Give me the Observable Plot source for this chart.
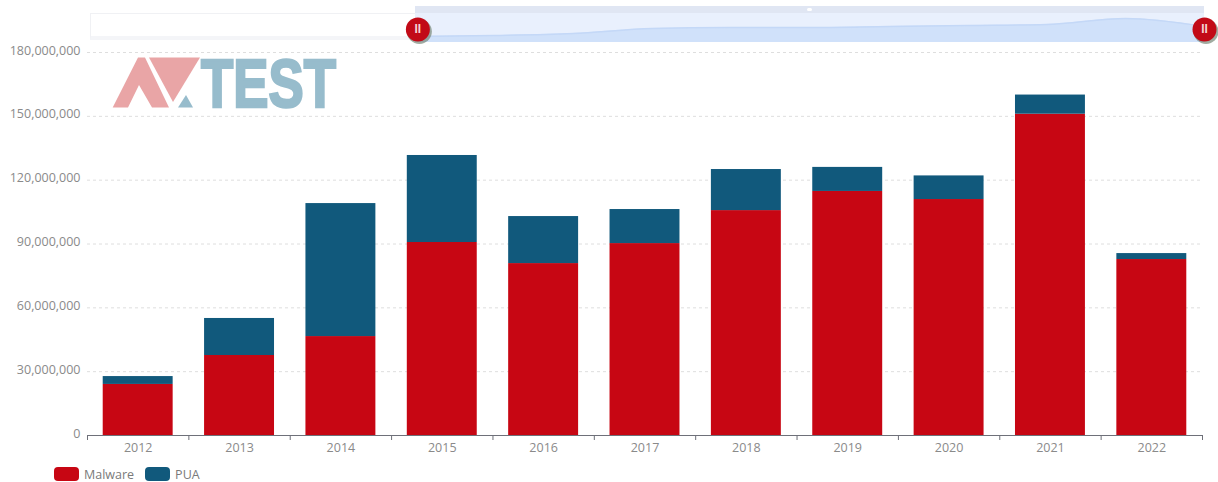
<!DOCTYPE html>
<html>
<head>
<meta charset="utf-8">
<script src="https://cdn.jsdelivr.net/npm/d3@7"></script>
<script src="https://cdn.jsdelivr.net/npm/@observablehq/plot@0.6"></script>
<style>
  html, body { margin: 0; padding: 0; background: #fff; overflow: hidden; }
  #page { position: relative; width: 1218px; height: 482px; font-family: "Open Sans", sans-serif; }
  .slider-idle { position: absolute; left: 90px; top: 13px; width: 328px; height: 27px; background: #fff;
    border: 1px solid #f0f1f4; box-sizing: border-box; border-bottom: 4px solid #f4f5f8; }
  .slider-window { position: absolute; left: 415px; top: 6px; width: 789px; height: 36px; background: #e9f0fd; }
  .slider-window::before { content: ""; position: absolute; left: 0; right: 0; top: 0; height: 7px; background: #e0e6f3; }
  .slider-window::after { content: ""; position: absolute; left: 392px; top: 2px; width: 5px; height: 3px; background: #fff; border-radius: 2px; }
  .logo { position: absolute; left: 0; top: 0; }
  .legend { display: flex; align-items: center; height: 14px; padding: 5px 0 0 54px; font-size: 12.5px; color: #7a7a7a; }
  .legend i { display: inline-block; width: 25px; height: 14px; border-radius: 4px; margin-right: 5px; }
  .legend span { margin-right: 11px; }
  #chart svg, #preview svg { display: block; background: transparent; }
  #preview { position: absolute; left: 0; top: 0; }
</style>
</head>
<body>
<div id="page">
  <div id="chart"></div>
  <div class="slider-idle"></div>
  <div class="slider-window"></div>
  <div id="preview"></div>
  <svg class="logo" width="420" height="130" aria-label="AV-TEST">
    <polygon points="112.7,107.5 138,57.5 145,57.5 169,107.5 152,107.5 139,85 128,107.5" fill="#e9a5a6"/>
    <polygon points="149,57.5 200,57.5 173,102" fill="#e9a5a6"/>
    <polygon points="178,107.5 193,107.5 186,95" fill="#97bccc"/>
    <text x="201" y="107" font-family="Liberation Sans, sans-serif" font-weight="700" font-size="68"
      textLength="135" lengthAdjust="spacingAndGlyphs" fill="#97bccc" stroke="#97bccc" stroke-width="2.5">TEST</text>
  </svg>
  <div class="legend" id="legend"></div>
</div>
<script>
// Yearly totals of new samples, stacked by category.
const years = [2012, 2013, 2014, 2015, 2016, 2017, 2018, 2019, 2020, 2021, 2022];
const malware = [24.0e6, 37.6e6, 46.5e6, 90.7e6, 80.8e6, 90.2e6, 105.7e6, 114.7e6, 110.9e6, 151.0e6, 82.7e6];
const pua = [3.7e6, 17.4e6, 62.5e6, 40.9e6, 22.1e6, 16.0e6, 19.3e6, 11.3e6, 11.1e6, 9.0e6, 2.8e6];
const seriesNames = ["Malware", "PUA"];
const seriesColors = ["#c70613", "#11597c"];
const yTicks = [0, 30e6, 60e6, 90e6, 120e6, 150e6, 180e6];

// Outline shown inside the range slider above the chart, in millions.
const sliderTrend = [30, 35, 45, 70, 75, 75, 80, 85, 90, 120, 80];
const sliderEnds = [2012.03, 2022];
const sliderHandleLevel = 65;

const halfBar = 0.345;
const rows = years.flatMap((year, i) => [
  {year, series: seriesNames[0], y1: 0, y2: malware[i]},
  {year, series: seriesNames[1], y1: malware[i], y2: malware[i] + pua[i]}
]);
const bandEdges = [...years.map((y) => y - 0.5), years[years.length - 1] + 0.5];

const chart = Plot.plot({
  width: 1218,
  height: 462,
  marginLeft: 87,
  marginRight: 16,
  marginTop: 52,
  marginBottom: 27,
  style: {fontFamily: "'Open Sans', sans-serif", fontSize: "12.5px", color: "#858585", background: "transparent"},
  x: {domain: [2011.5, 2022.5]},
  y: {domain: [0, 180e6]},
  color: {domain: seriesNames, range: seriesColors},
  marks: [
    Plot.gridY(yTicks, {stroke: "#dedede", strokeOpacity: 1, strokeDasharray: "3,3"}),
    Plot.rectY(rows, {
      x1: (d) => d.year - halfBar,
      x2: (d) => d.year + halfBar,
      y1: "y1",
      y2: "y2",
      fill: "series"
    }),
    Plot.ruleY([0], {stroke: "#6e7079"}),
    Plot.axisY(yTicks, {tickSize: 0, tickPadding: 7, dy: -2, tickFormat: d3.format(","), label: null, fill: "#8a8a8a"}),
    Plot.axisX(bandEdges, {tickSize: 5, stroke: "#6e7079", tickFormat: () => "", label: null}),
    Plot.axisX(years, {tickSize: 0, tickPadding: 8, tickFormat: (d) => String(d), label: null, fill: "#8a8a8a"})
  ]
});
document.getElementById("chart").append(chart);

// Range slider: the outline of the yearly trend with a round pause handle at each end.
const trendRows = years.map((year, i) => ({year, v: sliderTrend[i]}));
const preview = Plot.plot({
  width: 1218,
  height: 50,
  marginLeft: 415,
  marginRight: 14,
  marginTop: 6,
  marginBottom: 8,
  axis: null,
  x: {domain: [2012, 2022]},
  y: {domain: [0, 180]},
  style: {background: "transparent", overflow: "visible"},
  marks: [
    Plot.areaY(trendRows, {x: "year", y: "v", fill: "#d0e1fa", curve: "monotone-x"}),
    Plot.lineY(trendRows, {x: "year", y: "v", stroke: "#c4d8f7", curve: "monotone-x"}),
    Plot.dot(sliderEnds, {x: (d) => d, y: () => sliderHandleLevel, dx: 1.5, dy: 2, fill: "#6f7f6f", fillOpacity: 0.65, r: 12.5}),
    Plot.dot(sliderEnds, {x: (d) => d, y: () => sliderHandleLevel, fill: "#c20a17", r: 12}),
    Plot.text(sliderEnds, {x: (d) => d, y: () => sliderHandleLevel, text: () => "II", fill: "#f5d5d5", fontSize: 12, fontWeight: 700, fontFamily: "Liberation Sans, sans-serif"})
  ]
});
document.getElementById("preview").append(preview);

const legend = document.getElementById("legend");
seriesNames.forEach((name, i) => {
  const swatch = document.createElement("i");
  swatch.style.background = seriesColors[i];
  const label = document.createElement("span");
  label.textContent = name;
  legend.append(swatch, label);
});
</script>
</body>
</html>
